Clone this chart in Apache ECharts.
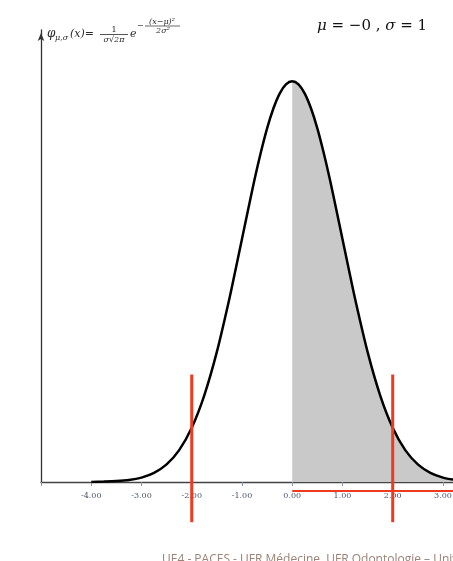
<!DOCTYPE html>
<html><head><meta charset="utf-8">
<script src="https://cdn.jsdelivr.net/npm/echarts@6/dist/echarts.min.js"></script>
<style>html,body{margin:0;padding:0;background:#fff;overflow:hidden}#c{width:453px;height:561px}</style>
</head><body><div id="c"></div>
<script>
// Density curve (x, height)
const curveX = [-4,-3.75,-3.5,-3.25,-3,-2.75,-2.5,-2.25,-2,-1.75,-1.5,-1.25,-1.125,-1,-0.875,-0.75,-0.625,-0.5,-0.375,-0.25,-0.125,0,0.125,0.25,0.375,0.5,0.625,0.75,0.875,1,1.125,1.25,1.5,1.75,2,2.25,2.5,2.75,3,3.25];
const curveY = [0.0001,0.0004,0.0009,0.0020,0.0044,0.0091,0.0175,0.0317,0.0540,0.0863,0.1295,0.1826,0.2121,0.2420,0.2717,0.3011,0.3280,0.3521,0.3718,0.3867,0.3958,0.3989,0.3958,0.3867,0.3718,0.3521,0.3280,0.3011,0.2717,0.2420,0.2121,0.1826,0.1295,0.0863,0.0540,0.0317,0.0175,0.0091,0.0044,0.0020];
// Shaded region (x >= 0)
const shadeX = [0,0.125,0.25,0.375,0.5,0.625,0.75,0.875,1,1.125,1.25,1.5,1.75,2,2.25,2.5,2.75,3,3.25];
const shadeY = [0.3989,0.3958,0.3867,0.3718,0.3521,0.3280,0.3011,0.2717,0.2420,0.2121,0.1826,0.1295,0.0863,0.0540,0.0317,0.0175,0.0091,0.0044,0.0020];
// Red markers
const redVX = [-2, 2];
const redVY = [-0.040, 0.107];
const redHX = [0, 3.4];
const redHY = -0.009;
// Axis
const xMin = -5, xMax = 3.2, xStep = 1;
const yMax = 0.45;

const pairs = (a, b) => a.map((v, i) => [v, b[i]]);

const chart = echarts.init(document.getElementById('c'), null, {renderer: 'canvas'});
const serif = '"DejaVu Serif", "Liberation Serif", serif';
const ink = '#2a2a2a';
chart.setOption({
  animation: false,
  backgroundColor: '#fff',
  grid: {left: 41, right: 0, top: 30, bottom: 79, outerBoundsMode: 'none', containLabel: false},
  xAxis: {
    type: 'value', min: xMin, max: xMax, interval: xStep,
    splitLine: {show: false},
    axisLine: {onZero: false, lineStyle: {color: '#444', width: 1.3}},
    axisTick: {length: 4, lineStyle: {color: '#8a98ac'}},
    axisLabel: {
      margin: 10, fontSize: 8, fontFamily: serif, color: '#4c5670',
      showMaxLabel: true,
      formatter: v => (v === xMin || Math.abs(v - Math.round(v)) > 1e-9) ? '' : v.toFixed(2)
    }
  },
  yAxis: {
    type: 'value', min: 0, max: yMax,
    splitLine: {show: false},
    axisLine: {show: true, onZero: false, symbol: ['none', 'arrow'], symbolSize: [5, 8], symbolOffset: [0, -3], lineStyle: {color: '#333', width: 1.3}},
    axisTick: {show: false},
    axisLabel: {show: false}
  },
  series: [
    {type: 'line', data: pairs(shadeX, shadeY), smooth: 0.3, symbol: 'none',
     lineStyle: {width: 0}, areaStyle: {color: '#c9c9c9', opacity: 1}, z: 1, silent: true},
    {type: 'line', data: pairs(curveX, curveY), smooth: 0.3, symbol: 'none',
     lineStyle: {color: '#000', width: 2.5}, z: 3},
    {type: 'line', data: [[redHX[0], redHY], [redHX[1], redHY]], symbol: 'none', clip: false,
     lineStyle: {color: '#f03a1f', width: 2}, z: 4},
    {type: 'line', data: [[redVX[0], redVY[0]], [redVX[0], redVY[1]]], symbol: 'none', clip: false,
     lineStyle: {color: '#f03a1f', width: 3}, z: 5},
    {type: 'line', data: [[redVX[1], redVY[0]], [redVX[1], redVY[1]]], symbol: 'none', clip: false,
     lineStyle: {color: '#f03a1f', width: 3}, z: 5}
  ],
  graphic: [
    {type: 'text', x: 47, y: 40, style: {text: 'φ', font: 'italic 12px ' + serif, fill: ink, verticalAlign: 'bottom'}},
    {type: 'text', x: 55, y: 42, style: {text: 'μ,σ', font: 'italic 8px ' + serif, fill: ink, verticalAlign: 'bottom'}},
    {type: 'text', x: 70, y: 40, style: {text: '(x)=', font: 'italic 11px ' + serif, fill: ink, verticalAlign: 'bottom'}},
    {type: 'text', x: 114, y: 34, style: {text: '1', font: '8px ' + serif, fill: ink, align: 'center', verticalAlign: 'bottom'}},
    {type: 'line', shape: {x1: 100, y1: 34.5, x2: 128, y2: 34.5}, style: {stroke: ink, lineWidth: 0.8}},
    {type: 'text', x: 114, y: 35.5, style: {text: 'σ√2π', font: 'italic 8px ' + serif, fill: ink, align: 'center', verticalAlign: 'top'}},
    {type: 'text', x: 130, y: 40, style: {text: 'e', font: 'italic 11px ' + serif, fill: ink, verticalAlign: 'bottom'}},
    {type: 'text', x: 137, y: 30, style: {text: '−', font: '8px ' + serif, fill: ink, verticalAlign: 'bottom'}},
    {type: 'text', x: 162, y: 25.5, style: {text: '(x−μ)²', font: 'italic 8px ' + serif, fill: ink, align: 'center', verticalAlign: 'bottom'}},
    {type: 'line', shape: {x1: 145, y1: 26, x2: 180, y2: 26}, style: {stroke: ink, lineWidth: 0.7}},
    {type: 'text', x: 163, y: 26.5, style: {text: '2σ²', font: 'italic 8px ' + serif, fill: ink, align: 'center', verticalAlign: 'top'}},
    {type: 'text', x: 317, y: 34, style: {
      text: '{i|μ} = −0 , {i|σ} = 1', font: '15px ' + serif, fill: '#111', verticalAlign: 'bottom',
      rich: {i: {fontStyle: 'italic', fontSize: 15, fontFamily: serif, fill: '#111'}}}},
    {type: 'text', x: 162, y: 554, style: {text: 'UE4 - PACES - UFR Médecine, UFR Odontologie – Université', font: '12px "Open Sans", sans-serif', fill: '#9a8276', verticalAlign: 'top'}}
  ]
});
</script></body></html>
